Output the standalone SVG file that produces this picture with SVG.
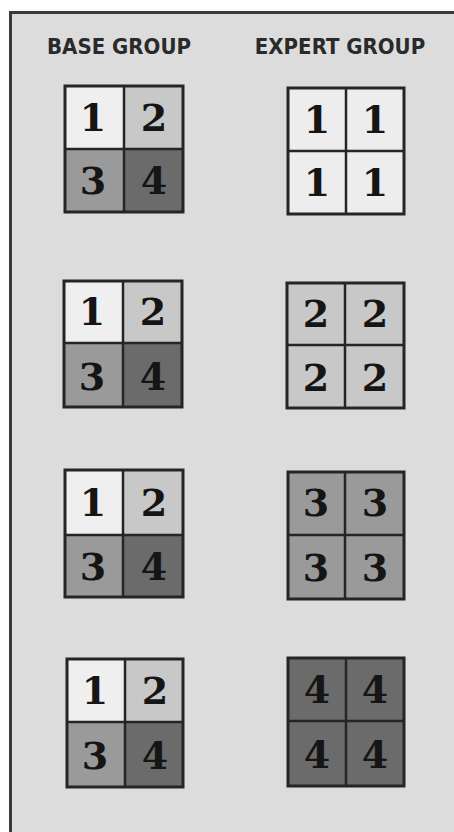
<svg xmlns="http://www.w3.org/2000/svg" width="454" height="832" viewBox="0 0 454 832">
<style>
.hdr{font-family:"DejaVu Sans Condensed","DejaVu Sans","Liberation Sans",sans-serif;font-stretch:condensed;font-weight:bold;font-size:22px;fill:#2a2a2a;text-anchor:middle}
.d{font-family:"DejaVu Serif","Liberation Serif",serif;font-weight:bold;font-size:38px;fill:#151515;text-anchor:middle}
.c1{fill:#efefef}.c2{fill:#c8c8c8}.c3{fill:#9a9a9a}.c4{fill:#6b6b6b}.ce{fill:#ededed}
.frame{fill:none;stroke:#252525;stroke-width:3}
.ln{stroke:#252525;stroke-width:2.5}
</style>
<rect x="0" y="0" width="454" height="832" fill="#ffffff"/>
<rect x="10.5" y="12.5" width="460" height="840" fill="#dcdcdc" stroke="#3a3a3a" stroke-width="3"/>
<g id="headers">
<text class="hdr" x="119" y="54">BASE GROUP</text>
<text class="hdr" x="340" y="54">EXPERT GROUP</text>
</g>
<g id="base1">
<rect class="c1" x="65" y="86" width="59" height="63"/><rect class="c2" x="124" y="86" width="59" height="63"/>
<rect class="c3" x="65" y="149" width="59" height="63"/><rect class="c4" x="124" y="149" width="59" height="63"/>
<rect class="frame" x="65" y="86" width="118" height="126"/>
<line class="ln" x1="124" y1="86" x2="124" y2="212"/>
<line class="ln" x1="65" y1="149" x2="183" y2="149"/>
<text class="d" x="93" y="131">1</text><text class="d" x="154" y="131">2</text>
<text class="d" x="93" y="194">3</text><text class="d" x="154" y="194">4</text>
</g>
<g id="expert1">
<rect class="ce" x="288" y="88" width="116" height="126"/>
<rect class="frame" x="288" y="88" width="116" height="126"/>
<line class="ln" x1="346" y1="88" x2="346" y2="214"/><line class="ln" x1="288" y1="151" x2="404" y2="151"/>
<text class="d" x="317" y="133">1</text><text class="d" x="375" y="133">1</text>
<text class="d" x="317" y="196">1</text><text class="d" x="375" y="196">1</text>
</g>
<g id="base2">
<rect class="c1" x="64" y="281" width="59" height="62"/><rect class="c2" x="123" y="281" width="59" height="62"/>
<rect class="c3" x="64" y="343" width="59" height="64"/><rect class="c4" x="123" y="343" width="59" height="64"/>
<rect class="frame" x="64" y="281" width="118" height="126"/>
<line class="ln" x1="123" y1="281" x2="123" y2="407"/><line class="ln" x1="64" y1="343" x2="182" y2="343"/>
<text class="d" x="92" y="325">1</text><text class="d" x="153" y="325">2</text>
<text class="d" x="92" y="390">3</text><text class="d" x="153" y="390">4</text>
</g>
<g id="expert2">
<rect class="c2" x="287" y="283" width="117" height="125"/>
<rect class="frame" x="287" y="283" width="117" height="125"/>
<line class="ln" x1="345" y1="283" x2="345" y2="408"/><line class="ln" x1="287" y1="345" x2="404" y2="345"/>
<text class="d" x="316" y="327">2</text><text class="d" x="375" y="327">2</text>
<text class="d" x="316" y="391">2</text><text class="d" x="375" y="391">2</text>
</g>
<g id="base3">
<rect class="c1" x="65" y="470" width="58" height="65"/><rect class="c2" x="123" y="470" width="60" height="65"/>
<rect class="c3" x="65" y="535" width="58" height="62"/><rect class="c4" x="123" y="535" width="60" height="62"/>
<rect class="frame" x="65" y="470" width="118" height="127"/>
<line class="ln" x1="123" y1="470" x2="123" y2="597"/><line class="ln" x1="65" y1="535" x2="183" y2="535"/>
<text class="d" x="93" y="516">1</text><text class="d" x="154" y="516">2</text>
<text class="d" x="93" y="580">3</text><text class="d" x="154" y="580">4</text>
</g>
<g id="expert3">
<rect class="c3" x="288" y="472" width="116" height="127"/>
<rect class="frame" x="288" y="472" width="116" height="127"/>
<line class="ln" x1="345" y1="472" x2="345" y2="599"/><line class="ln" x1="288" y1="535" x2="404" y2="535"/>
<text class="d" x="316" y="516">3</text><text class="d" x="375" y="516">3</text>
<text class="d" x="316" y="581">3</text><text class="d" x="375" y="581">3</text>
</g>
<g id="base4">
<rect class="c1" x="67" y="659" width="58" height="63"/><rect class="c2" x="125" y="659" width="58" height="63"/>
<rect class="c3" x="67" y="722" width="58" height="65"/><rect class="c4" x="125" y="722" width="58" height="65"/>
<rect class="frame" x="67" y="659" width="116" height="128"/>
<line class="ln" x1="125" y1="659" x2="125" y2="787"/><line class="ln" x1="67" y1="722" x2="183" y2="722"/>
<text class="d" x="95" y="704">1</text><text class="d" x="155" y="704">2</text>
<text class="d" x="95" y="769">3</text><text class="d" x="155" y="769">4</text>
</g>
<g id="expert4">
<rect class="c4" x="288" y="658" width="116" height="128"/>
<rect class="frame" x="288" y="658" width="116" height="128"/>
<line class="ln" x1="346" y1="658" x2="346" y2="786"/><line class="ln" x1="288" y1="721" x2="404" y2="721"/>
<text class="d" x="317" y="703">4</text><text class="d" x="375" y="703">4</text>
<text class="d" x="317" y="768">4</text><text class="d" x="375" y="768">4</text>
</g>
</svg>
